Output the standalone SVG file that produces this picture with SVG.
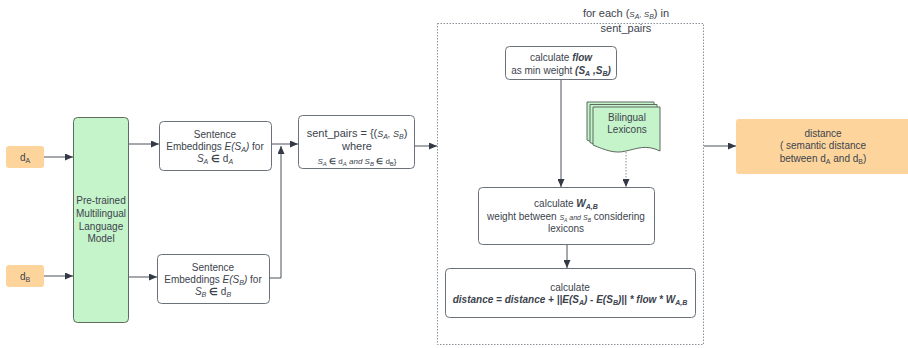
<svg xmlns="http://www.w3.org/2000/svg" width="908" height="348" viewBox="0 0 908 348">
<defs>
<marker id="ah" markerUnits="userSpaceOnUse" markerWidth="8" markerHeight="7" refX="8" refY="3.5" orient="auto">
<path d="M0,0 L8,3.5 L0,7 z" fill="#333a45"/>
</marker>
<style>
text{font-family:"Liberation Sans",Arial,sans-serif;font-size:10px;fill:#3c434d;text-anchor:middle}
.box{fill:#fff;stroke:#6b717a;stroke-width:1}
.org{fill:#fdd59c;stroke:none}
.grn{fill:#c5f3ca;stroke:#5d6b60;stroke-width:1}
.ln{fill:none;stroke:#4b525c;stroke-width:1}
.dot{fill:none;stroke:#8a9098;stroke-width:1;stroke-dasharray:1.5 1.5}
.it{font-style:italic}
.b{font-weight:bold}
.sub{font-size:7px}
</style>
</defs>
<rect width="908" height="348" fill="#fff"/>

<g id="container">
<rect x="437.5" y="23.5" width="266" height="321" class="dot"/>
<text x="626" y="17" style="font-size:11px">for each (<tspan class="it" style="font-size:8px">S<tspan class="sub" baseline-shift="-2">A</tspan>, S<tspan class="sub" baseline-shift="-2">B</tspan></tspan>) in</text>
<text x="626" y="32" style="font-size:11px">sent_pairs</text>
</g>

<g id="dA">
<rect x="6" y="146" width="38" height="22" rx="3" class="org"/>
<text x="25" y="160.5">d<tspan class="sub" baseline-shift="-2">A</tspan></text>
</g>
<g id="dB">
<rect x="6" y="265" width="38" height="22" rx="3" class="org"/>
<text x="25" y="279.5">d<tspan class="sub" baseline-shift="-2">B</tspan></text>
</g>

<g id="model">
<rect x="73.5" y="117.5" width="55" height="205" rx="4" class="grn"/>
<text x="101" y="204">Pre-trained</text>
<text x="101" y="217">Multilingual</text>
<text x="101" y="230">Language</text>
<text x="101" y="242">Model</text>
</g>

<g id="embA">
<rect x="159.5" y="121.5" width="112" height="49" rx="4" class="box"/>
<text x="215" y="137.5">Sentence</text>
<text x="215" y="149.5">Embeddings <tspan class="it">E(S<tspan class="sub" baseline-shift="-2">A</tspan>)</tspan> for</text>
<text x="215" y="161.5"><tspan class="it">S<tspan class="sub" baseline-shift="-2">A</tspan></tspan> <tspan class="b">∈</tspan> d<tspan class="sub it" baseline-shift="-2">A</tspan></text>
</g>

<g id="embB">
<rect x="157.5" y="254.5" width="112" height="49" rx="4" class="box"/>
<text x="213" y="270.5">Sentence</text>
<text x="213" y="282.5">Embeddings <tspan class="it">E(S<tspan class="sub" baseline-shift="-2">B</tspan>)</tspan> for</text>
<text x="213" y="294.5"><tspan class="it">S<tspan class="sub" baseline-shift="-2">B</tspan></tspan> <tspan class="b">∈</tspan> d<tspan class="sub it" baseline-shift="-2">B</tspan></text>
</g>

<g id="pairs">
<rect x="298.5" y="115.5" width="116" height="53" rx="4" class="box"/>
<text x="357" y="137" style="font-size:11px">sent_pairs = {(<tspan class="it" style="font-size:9px">S<tspan class="sub" baseline-shift="-2">A</tspan>, S<tspan class="sub" baseline-shift="-2">B</tspan></tspan>)</text>
<text x="357" y="150" style="font-size:11px">where</text>
<text x="357" y="164" style="font-size:8px"><tspan class="it">S<tspan style="font-size:6px" baseline-shift="-1.5">A</tspan></tspan> <tspan class="b">∈</tspan> d<tspan style="font-size:6px" class="it" baseline-shift="-1.5">A</tspan> <tspan class="it">and S<tspan style="font-size:6px" baseline-shift="-1.5">B</tspan></tspan> <tspan class="b">∈</tspan> d<tspan style="font-size:6px" baseline-shift="-1.5">B</tspan>}</text>
</g>

<g id="flow">
<rect x="505.5" y="46.5" width="111" height="33" rx="4" class="box"/>
<text x="561" y="61">calculate <tspan class="it b">flow</tspan></text>
<text x="561" y="74">as min weight <tspan class="it b">(S<tspan class="sub" baseline-shift="-2">A</tspan> ,S<tspan class="sub" baseline-shift="-2">B</tspan>)</tspan></text>
</g>

<g id="lexicons">
<path d="M587,102 H654 V146 C640,139 630,144 620,146 C609,149 599,145 587,140 Z" class="grn"/>
<path d="M590,104.5 H657 V148.5 C643,141.5 633,146.5 623,148.5 C612,151.5 602,147.5 590,142.5 Z" class="grn"/>
<path d="M593,107 H660 V151 C646,144 636,149 626,151 C615,154 605,150 593,145 Z" class="grn"/>
<text x="627" y="121">Bilingual</text>
<text x="627" y="133">Lexicons</text>
</g>

<g id="weight">
<rect x="478.5" y="187.5" width="176" height="57" rx="4" class="box"/>
<text x="566" y="207">calculate <tspan class="it b">W<tspan class="sub" baseline-shift="-2">A,B</tspan></tspan></text>
<text x="566" y="220">weight between <tspan class="it" style="font-size:7px">S<tspan style="font-size:5px" baseline-shift="-1.5">A</tspan> and S<tspan style="font-size:5px" baseline-shift="-1.5">B</tspan></tspan> considering</text>
<text x="566" y="232">lexicons</text>
</g>

<g id="calc">
<rect x="445.5" y="268.5" width="250" height="49" rx="4" class="box"/>
<text x="570" y="291">calculate</text>
<text x="570" y="303" class="it b">distance = distance + ||E(S<tspan class="sub" baseline-shift="-2">A</tspan>) - E(S<tspan class="sub" baseline-shift="-2">B</tspan>)|| * flow * W<tspan class="sub" baseline-shift="-2">A,B</tspan></text>
</g>

<g id="distance">
<rect x="736" y="119" width="174" height="55" rx="3" class="org"/>
<text x="823" y="136.5">distance</text>
<text x="823" y="149">( semantic  distance</text>
<text x="823" y="161.5">between d<tspan class="sub" baseline-shift="-2">A</tspan> and d<tspan class="sub" baseline-shift="-2">B</tspan>)</text>
</g>

<g id="connectors">
<path d="M44,157 H73" class="ln" marker-end="url(#ah)"/>
<path d="M44,276 H73" class="ln" marker-end="url(#ah)"/>
<path d="M129,144 H159" class="ln" marker-end="url(#ah)"/>
<path d="M129,277 H157" class="ln" marker-end="url(#ah)"/>
<path d="M272,144 H298" class="ln" marker-end="url(#ah)"/>
<path d="M269.5,278 H281 V146" class="ln" marker-end="url(#ah)"/>
<path d="M415,146 H437" class="ln" marker-end="url(#ah)"/>
<path d="M561,80 V187" class="ln" marker-end="url(#ah)"/>
<path d="M626,152 V187" class="dot" marker-end="url(#ah)"/>
<path d="M567,245 V268" class="ln" marker-end="url(#ah)"/>
<path d="M704,146 H736" class="ln" marker-end="url(#ah)"/>
</g>
</svg>
